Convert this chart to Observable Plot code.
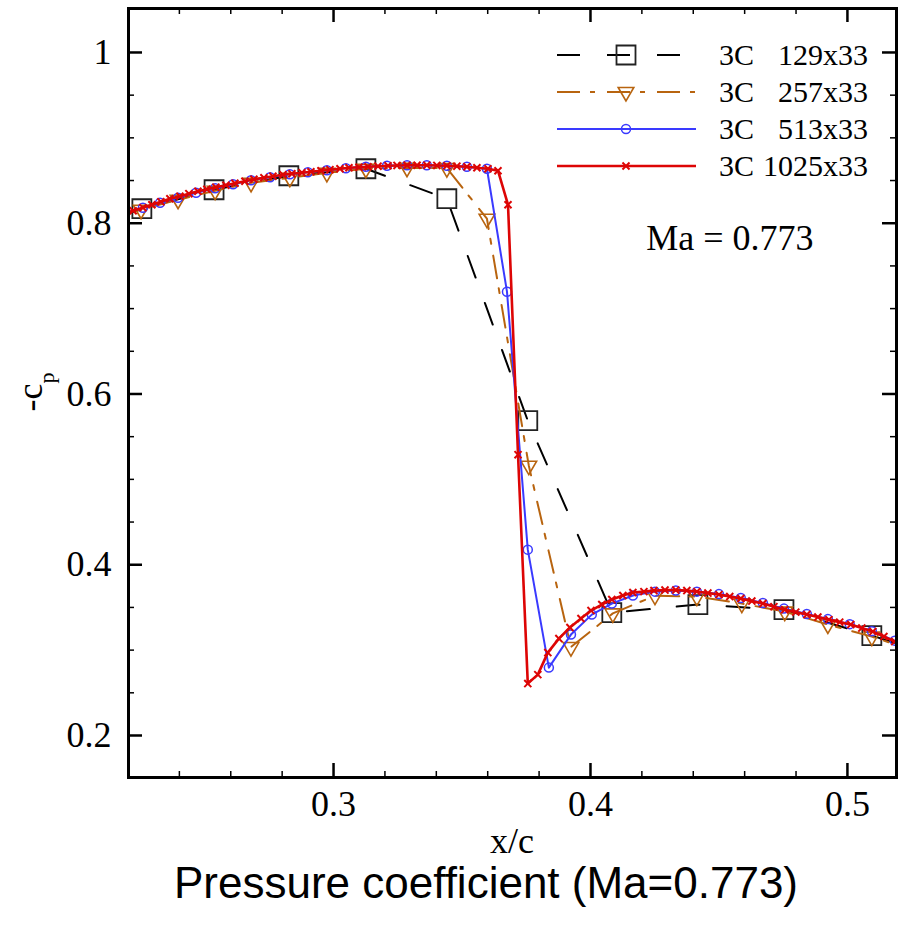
<!DOCTYPE html>
<html><head><meta charset="utf-8">
<script src="https://cdn.jsdelivr.net/npm/d3@7"></script>
<script src="https://cdn.jsdelivr.net/npm/@observablehq/plot@0.6"></script>
<style>
body{margin:0;background:#fff;}
#wrap{position:relative;width:899px;height:858px;}
#legend{position:absolute;left:0;top:0;pointer-events:none;}
#title{width:899px;box-sizing:border-box;padding-left:73px;text-align:center;font-family:"Liberation Sans",Arial,sans-serif;font-size:44px;line-height:50px;color:#000;}
</style></head><body>
<div id="wrap"></div>
<div id="title">Pressure coefficient (Ma=0.773)</div>
<script>
// ---- axis setup ----
const xDomain = [0.2202, 0.5191];
const yDomain = [0.1508, 1.0515];
const xMajor = [0.3, 0.4, 0.5];
const xMinor = [0.24, 0.26, 0.28, 0.32, 0.34, 0.36, 0.38, 0.42, 0.44, 0.46, 0.48];
const yMajor = [0.2, 0.4, 0.6, 0.8, 1.0];
const yMinor = [0.25, 0.3, 0.35, 0.45, 0.5, 0.55, 0.65, 0.7, 0.75, 0.85, 0.9, 0.95];

// ---- series labels ----
const seriesNames = ["129x33", "257x33", "513x33", "1025x33"];
const seriesPrefix = "3C";
const annotation = "Ma = 0.773";

// ---- 3C 129x33 ----
const x129 = [0.1980, 0.2254, 0.2535, 0.2826, 0.3126, 0.3441, 0.3756, 0.4083, 0.4418, 0.4753, 0.5095, 0.5430];
const y129 = [0.7880, 0.8170, 0.8392, 0.8556, 0.8638, 0.8287, 0.5687, 0.3439, 0.3533, 0.3474, 0.3170, 0.2850];

// ---- 3C 257x33 ----
const x257 = [0.2107, 0.2251, 0.2395, 0.2539, 0.2679, 0.2830, 0.2974, 0.3126, 0.3286, 0.3441, 0.3597, 0.3760, 0.3924, 0.4087, 0.4251, 0.4414, 0.4589, 0.4756, 0.4924, 0.5095, 0.5262];
const y257 = [0.8050, 0.8158, 0.8275, 0.8381, 0.8474, 0.8533, 0.8591, 0.8638, 0.8650, 0.8645, 0.8053, 0.5160, 0.3036, 0.3430, 0.3638, 0.3627, 0.3545, 0.3451, 0.3300, 0.3158, 0.2990];

// ---- 3C 513x33 ----
const x513 = [0.2184, 0.2258, 0.2325, 0.2395, 0.2465, 0.2539, 0.2609, 0.2679, 0.2753, 0.2830, 0.2900, 0.2974, 0.3048, 0.3126, 0.3208, 0.3286, 0.3363, 0.3441, 0.3519, 0.3597, 0.3675, 0.3756, 0.3838, 0.3924, 0.4005, 0.4083, 0.4165, 0.4251, 0.4332, 0.4414, 0.4500, 0.4585, 0.4671, 0.4753, 0.4842, 0.4924, 0.5009, 0.5095, 0.5184];
const y513 = [0.8117, 0.8182, 0.8240, 0.8299, 0.8357, 0.8410, 0.8457, 0.8504, 0.8539, 0.8574, 0.8597, 0.8621, 0.8644, 0.8662, 0.8673, 0.8679, 0.8679, 0.8673, 0.8662, 0.8638, 0.7198, 0.4177, 0.2795, 0.3182, 0.3416, 0.3545, 0.3639, 0.3685, 0.3697, 0.3685, 0.3656, 0.3610, 0.3551, 0.3486, 0.3422, 0.3363, 0.3304, 0.3222, 0.3111];

// ---- 3C 1025x33 ----
const x1025 = [0.2184, 0.2220, 0.2258, 0.2293, 0.2328, 0.2363, 0.2402, 0.2437, 0.2472, 0.2507, 0.2542, 0.2581, 0.2616, 0.2655, 0.2690, 0.2729, 0.2764, 0.2803, 0.2838, 0.2877, 0.2912, 0.2951, 0.2986, 0.3025, 0.3060, 0.3099, 0.3134, 0.3173, 0.3212, 0.3247, 0.3286, 0.3325, 0.3363, 0.3402, 0.3441, 0.3480, 0.3519, 0.3558, 0.3601, 0.3640, 0.3679, 0.3718, 0.3756, 0.3795, 0.3834, 0.3877, 0.3920, 0.3963, 0.4002, 0.4044, 0.4083, 0.4126, 0.4165, 0.4208, 0.4247, 0.4290, 0.4332, 0.4375, 0.4414, 0.4457, 0.4500, 0.4542, 0.4585, 0.4628, 0.4671, 0.4714, 0.4756, 0.4799, 0.4842, 0.4885, 0.4928, 0.4970, 0.5013, 0.5056, 0.5099, 0.5142, 0.5184];
const y1025 = [0.8110, 0.8146, 0.8182, 0.8217, 0.8252, 0.8287, 0.8316, 0.8346, 0.8375, 0.8398, 0.8422, 0.8445, 0.8468, 0.8492, 0.8515, 0.8533, 0.8550, 0.8568, 0.8580, 0.8591, 0.8603, 0.8615, 0.8627, 0.8638, 0.8650, 0.8656, 0.8662, 0.8668, 0.8673, 0.8677, 0.8679, 0.8679, 0.8679, 0.8677, 0.8673, 0.8668, 0.8662, 0.8650, 0.8638, 0.8615, 0.8217, 0.5289, 0.2608, 0.2713, 0.2971, 0.3135, 0.3265, 0.3370, 0.3463, 0.3534, 0.3592, 0.3639, 0.3674, 0.3685, 0.3697, 0.3703, 0.3703, 0.3697, 0.3685, 0.3668, 0.3650, 0.3627, 0.3604, 0.3574, 0.3545, 0.3509, 0.3474, 0.3445, 0.3416, 0.3387, 0.3357, 0.3328, 0.3299, 0.3258, 0.3217, 0.3159, 0.3100];

// ---- styles ----
const colors = ["#000000", "#b8640f", "#3a3aff", "#dd0505"];
const dashes = ["23,27", "23,10,5,12", null, null];
const lineW = [2, 2, 2, 2.6];

const W = 899, H = 858, mL = 128, mR = 3, mT = 8, mB = 81;
const kx = (xDomain[1] - xDomain[0]) / (W - mL - mR);
const ky = (yDomain[1] - yDomain[0]) / (H - mT - mB);

const toRows = (xs, ys) => xs.map((x, i) => ({x, y: ys[i]}));
const inside = d => d.filter(p => p.x >= xDomain[0] && p.x <= xDomain[1]);
const d129 = toRows(x129, y129), d257 = toRows(x257, y257), d513 = toRows(x513, y513), d1025 = toRows(x1025, y1025);

const tickMarks = (len, sw, xs, ys) => [
  Plot.ruleX(xs, {x: d => d, y1: yDomain[0], y2: yDomain[0] + len * ky, stroke: "#000", strokeWidth: sw}),
  Plot.ruleX(xs, {x: d => d, y1: yDomain[1], y2: yDomain[1] - len * ky, stroke: "#000", strokeWidth: sw}),
  Plot.ruleY(ys, {y: d => d, x1: xDomain[0], x2: xDomain[0] + len * kx, stroke: "#000", strokeWidth: sw}),
  Plot.ruleY(ys, {y: d => d, x1: xDomain[1], x2: xDomain[1] - len * kx, stroke: "#000", strokeWidth: sw})
];

const chart = Plot.plot({
  width: W, height: H,
  marginLeft: mL, marginRight: mR, marginTop: mT, marginBottom: mB,
  x: {domain: xDomain},
  y: {domain: yDomain},
  style: {fontFamily: "'Liberation Serif', 'Times New Roman', serif", fontSize: "36px", color: "#000", background: "#fff", overflow: "visible"},
  marks: [
    Plot.axisX({ticks: xMajor, tickSize: 0, tickPadding: 13, label: null, fontSize: 36, tickFormat: d => String(d)}),
    Plot.axisY({ticks: yMajor, tickSize: 0, tickPadding: 17, label: null, fontSize: 36, tickFormat: d => String(d)}),
    ...tickMarks(14, 2.5, xMajor, yMajor),
    ...tickMarks(6, 1.5, xMinor, yMinor),
    Plot.line(d129, {x: "x", y: "y", stroke: colors[0], strokeWidth: lineW[0], strokeDasharray: dashes[0], clip: true}),
    Plot.dot(inside(d129), {x: "x", y: "y", symbol: "square", r: 10.7, stroke: "#222", strokeWidth: 1.8, fill: "none", clip: true}),
    Plot.line(d257, {x: "x", y: "y", stroke: colors[1], strokeWidth: lineW[1], strokeDasharray: dashes[1], clip: true}),
    Plot.dot(inside(d257), {x: "x", y: "y", symbol: "triangle", rotate: 180, r: 5.8, stroke: colors[1], strokeWidth: 1.6, fill: "none", clip: true}),
    Plot.line(d513, {x: "x", y: "y", stroke: colors[2], strokeWidth: lineW[2], clip: true}),
    Plot.dot(inside(d513), {x: "x", y: "y", symbol: "circle", r: 4.5, stroke: colors[2], strokeWidth: 1.5, fill: "none", clip: true}),
    Plot.line(d1025, {x: "x", y: "y", stroke: colors[3], strokeWidth: lineW[3], clip: true}),
    Plot.dot(inside(d1025), {x: "x", y: "y", symbol: "times", r: 3.3, stroke: colors[3], strokeWidth: 2, fill: "none", clip: true}),
    Plot.text([annotation], {frameAnchor: "top-right", dx: -83, dy: 230, textAnchor: "end", lineAnchor: "middle", fontSize: 36}),
    Plot.frame({stroke: "#000", strokeWidth: 3})
  ]
});

const s = d3.select(chart);
const yl = s.append("text")
  .attr("transform", "translate(42,392) rotate(-90)")
  .attr("text-anchor", "middle")
  .attr("font-family", "'Liberation Serif', serif")
  .attr("font-size", 36)
  .attr("fill", "#000");
yl.append("tspan").text("-c");
yl.append("tspan").attr("font-size", 22).attr("dy", 12).text("p");

s.append("text")
  .attr("x", (mL + W - mR) / 2).attr("y", 853)
  .attr("text-anchor", "middle")
  .attr("font-family", "'Liberation Serif', serif")
  .attr("font-size", 36)
  .attr("fill", "#000")
  .text("x/c");

const wrap = document.getElementById("wrap");
wrap.appendChild(chart);

// ---- legend overlay ----
const lg = d3.select(wrap).append("svg").attr("id", "legend").attr("width", W).attr("height", 200);
const rowY = [55, 92, 129, 166];
const symType = [d3.symbolSquare, d3.symbolTriangle, d3.symbolCircle, d3.symbolTimes || d3.symbolCross];
const symSize = [19 * 19, Math.PI * 5.8 * 5.8, Math.PI * 4.5 * 4.5, Math.PI * 3.3 * 3.3];
const symRot = [0, 180, 0, d3.symbolTimes ? 0 : 45];
const symStroke = ["#222", colors[1], colors[2], colors[3]];
const symSW = [1.8, 1.6, 1.5, 2];
seriesNames.forEach((name, i) => {
  const y = rowY[i];
  lg.append("line").attr("x1", 557).attr("x2", 696).attr("y1", y).attr("y2", y)
    .attr("stroke", colors[i]).attr("stroke-width", lineW[i])
    .attr("stroke-dasharray", dashes[i] || null);
  lg.append("path").attr("d", d3.symbol(symType[i], symSize[i])())
    .attr("transform", `translate(626,${y}) rotate(${symRot[i]})`)
    .attr("fill", "none").attr("stroke", symStroke[i]).attr("stroke-width", symSW[i]);
  lg.append("text").attr("x", 719).attr("y", y + 10)
    .attr("font-family", "'Liberation Serif', serif").attr("font-size", 30).attr("fill", "#000")
    .text(seriesPrefix);
  lg.append("text").attr("x", 868).attr("y", y + 10).attr("text-anchor", "end")
    .attr("font-family", "'Liberation Serif', serif").attr("font-size", 30).attr("fill", "#000")
    .text(name);
});
</script>
</body></html>
